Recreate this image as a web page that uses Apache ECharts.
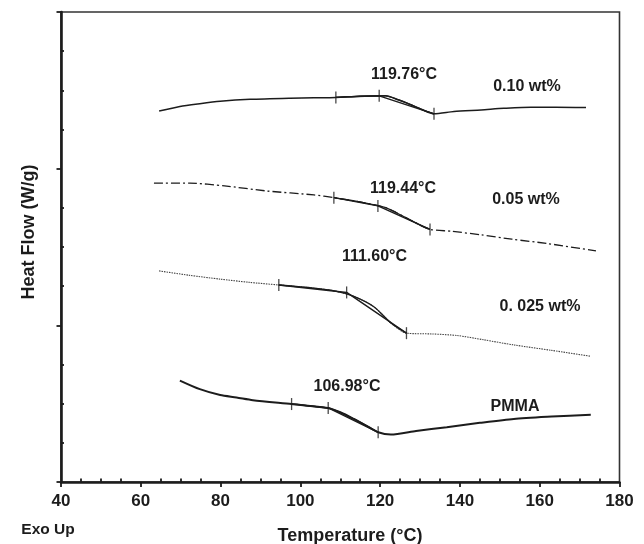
<!DOCTYPE html>
<html>
<head>
<meta charset="utf-8">
<script src="https://cdn.jsdelivr.net/npm/echarts@6/dist/echarts.min.js"></script>
<style>
  html, body { margin: 0; padding: 0; background: #fff; }
  #chart { width: 644px; height: 544px; }
</style>
</head>
<body>
<div id="chart"></div>
<script>
// DSC heating traces (temperature in °C, heat flow in stacked arbitrary units)
const curve010 = [[64.6,9.47],[69.8,9.59],[74.8,9.66],[79.9,9.72],[87.4,9.77],[97.4,9.80],[103.4,9.81],[108.9,9.82],[115.0,9.85],[121.4,9.86],[124.5,9.76],[127.5,9.64],[130.5,9.51],[133.5,9.40],[138.5,9.46],[145.3,9.50],[151.0,9.54],[157.8,9.57],[164.0,9.57],[171.6,9.56]];
const curve005 = [[63.3,7.63],[72.3,7.63],[81.0,7.56],[91.6,7.43],[103.4,7.33],[108.4,7.26],[114.9,7.15],[121.2,7.01],[124.0,6.88],[127.0,6.72],[130.0,6.56],[132.5,6.45],[138.0,6.40],[145.3,6.31],[153.0,6.20],[161.8,6.09],[174.1,5.90]];
const curve0025 = [[64.6,5.39],[72.0,5.28],[79.9,5.18],[87.0,5.10],[94.6,5.03],[103.4,4.95],[108.5,4.88],[113.4,4.74],[118.5,4.47],[122.7,4.06],[126.6,3.80],[133.0,3.78],[139.3,3.74],[146.0,3.63],[153.5,3.50],[163.0,3.36],[172.8,3.21]];
const curvePMMA = [[69.8,2.59],[74.8,2.37],[79.9,2.22],[84.0,2.16],[88.1,2.09],[97.8,1.99],[106.9,1.89],[110.0,1.78],[113.4,1.61],[116.5,1.44],[119.5,1.27],[122.7,1.21],[129.0,1.30],[136.7,1.40],[145.0,1.51],[153.5,1.61],[163.0,1.67],[172.8,1.72]];

// Glass transition analysis: onset, Tg and end markers
const tgValues = [119.76, 119.44, 111.60, 106.98];
const marks010 = [[108.9,9.82],[tgValues[0],9.86],[133.5,9.40]];
const marks005 = [[108.4,7.26],[tgValues[1],7.05],[132.5,6.45]];
const marks0025 = [[94.6,5.03],[tgValues[2],4.84],[126.6,3.80]];
const marksPMMA = [[97.8,1.99],[tgValues[3],1.89],[119.5,1.27]];

const sampleNames = ['0.10 wt%', '0.05 wt%', '0. 025 wt%', 'PMMA'];
const xTicks = [40, 60, 80, 100, 120, 140, 160, 180];

const INK = '#1c1c1c';
const FONT = '"Liberation Sans", Arial, Helvetica, sans-serif';

const traces = [
  { data: curve010, marks: marks010, line: { width: 1.5, type: 'solid', color: INK } },
  { data: curve005, marks: marks005, line: { width: 1.3, type: [9, 3, 2, 3], color: INK } },
  { data: curve0025, marks: marks0025, line: { width: 1.1, type: [1.5, 1], color: '#444' } },
  { data: curvePMMA, marks: marksPMMA, line: { width: 2, type: 'solid', color: INK } }
];

const series = [];
traces.forEach(function (t) {
  series.push({
    type: 'line', data: t.data, showSymbol: false, smooth: 0.25,
    lineStyle: t.line, silent: true, z: 2
  });
  const lo = t.marks[0][0], hi = t.marks[2][0];
  series.push({
    type: 'line', data: t.data.filter(function (p) { return p[0] >= lo && p[0] <= hi; }),
    showSymbol: false, smooth: 0.25,
    lineStyle: { width: 1.3, type: 'solid', color: INK }, silent: true, z: 3
  });
  series.push({
    type: 'line', data: t.marks, showSymbol: false,
    lineStyle: { width: 1.4, type: 'solid', color: INK }, silent: true, z: 3
  });
  series.push({
    type: 'scatter', data: t.marks, symbol: 'rect', symbolSize: [1.3, 12],
    itemStyle: { color: INK }, silent: true, z: 4
  });
});

const chart = echarts.init(document.getElementById('chart'), null, { renderer: 'canvas' });

// Text annotations: Tg values and sample names
const tgLabelPos = [[404, 75], [403, 189], [374.5, 257], [347, 387]];
const nameLabelPos = [[527, 87], [526, 200], [540, 307], [515, 407]];
const graphics = [];
tgValues.forEach(function (v, i) {
  graphics.push({
    type: 'text', x: tgLabelPos[i][0], y: tgLabelPos[i][1], silent: true,
    style: { text: v.toFixed(2) + '°C', font: 'bold 16px ' + FONT, fill: INK, align: 'center', verticalAlign: 'middle' }
  });
});
sampleNames.forEach(function (s, i) {
  graphics.push({
    type: 'text', x: nameLabelPos[i][0], y: nameLabelPos[i][1], silent: true,
    style: { text: s, font: 'bold 16px ' + FONT, fill: INK, align: 'center', verticalAlign: 'middle' }
  });
});
graphics.push({
  type: 'text', x: 350, y: 536, silent: true,
  style: { text: 'Temperature (°C)', font: 'bold 18px ' + FONT, fill: INK, align: 'center', verticalAlign: 'middle' }
});
graphics.push({
  type: 'text', x: 48, y: 530, silent: true,
  style: { text: 'Exo Up', font: 'bold 15.5px ' + FONT, fill: INK, align: 'center', verticalAlign: 'middle' }
});
graphics.push({
  type: 'text', x: 29.5, y: 232, rotation: Math.PI / 2, silent: true,
  style: { text: 'Heat Flow (W/g)', font: 'bold 18px ' + FONT, fill: INK, align: 'center', verticalAlign: 'middle' }
});

chart.setOption({
  animation: false,
  backgroundColor: '#fff',
  grid: {
    left: 61, right: 24.5, top: 12, bottom: 62,
    show: true, borderColor: '#333', borderWidth: 1.6, backgroundColor: 'transparent'
  },
  xAxis: {
    type: 'value', min: xTicks[0], max: xTicks[xTicks.length - 1], interval: 20,
    axisLine: { lineStyle: { color: INK, width: 2.6 } },
    axisTick: { show: true, length: 5, lineStyle: { color: INK, width: 1.8 } },
    minorTick: { show: true, splitNumber: 4, length: -3.5, lineStyle: { color: INK, width: 1.8 } },
    axisLabel: {
      margin: 11, color: INK, fontSize: 17, fontWeight: 'bold', fontFamily: FONT,
      formatter: function (v) { return xTicks.indexOf(v) >= 0 ? String(v) : ''; }
    },
    splitLine: { show: false }
  },
  yAxis: {
    type: 'value', min: 0, max: 12, interval: 4,
    axisLine: { lineStyle: { color: INK, width: 2.6 } },
    axisTick: { show: true, length: 4.5, lineStyle: { color: INK, width: 1.8 } },
    minorTick: { show: true, splitNumber: 4, length: -3, lineStyle: { color: INK, width: 1.8 } },
    axisLabel: { show: false },
    splitLine: { show: false }
  },
  graphic: graphics,
  series: series
});
</script>
</body>
</html>
